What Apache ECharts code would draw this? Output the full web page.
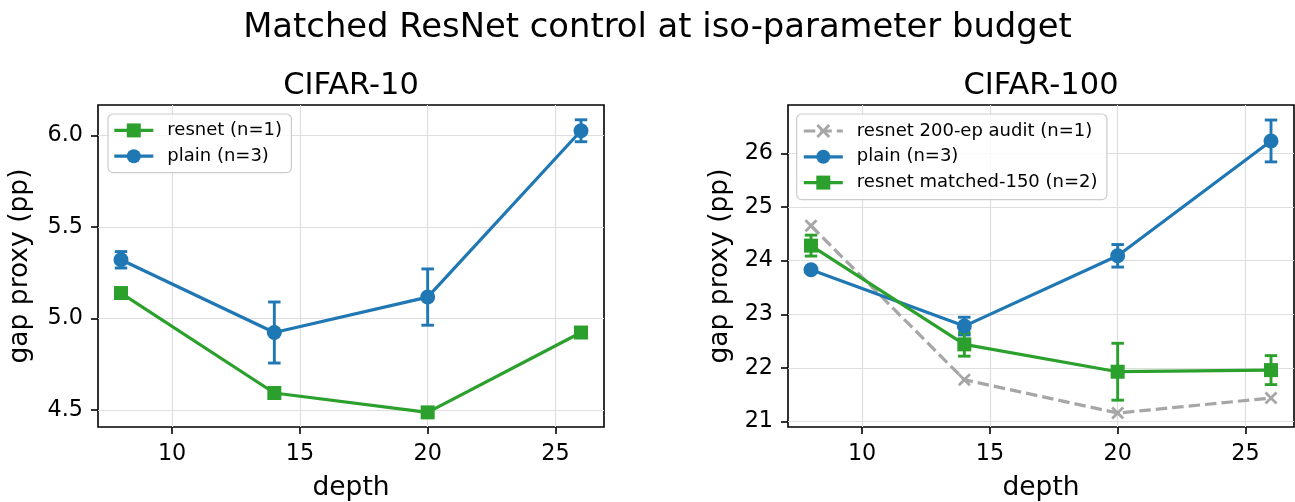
<!DOCTYPE html>
<html><head><meta charset="utf-8">
<script src="https://cdn.jsdelivr.net/npm/echarts@6/dist/echarts.min.js"></script>
<style>html,body{margin:0;padding:0;background:#fff}#c{width:1295px;height:502px}</style>
</head><body><div id="c"></div>
<script>
// ---- data ----
const depths = [8, 14, 20, 26];
const xTicks = [10, 15, 20, 25];
// CIFAR-10
const c10Resnet = [5.139, 4.592, 4.486, 4.923];
const c10Plain = [5.321, 4.923, 5.117, 6.027];
const c10PlainErr = [0.045, 0.167, 0.154, 0.06];
const c10YTicks = [4.5, 5.0, 5.5, 6.0];
// CIFAR-100
const c100Audit = [24.65, 21.78, 21.16, 21.44];
const c100Plain = [23.83, 22.78, 24.09, 26.23];
const c100PlainErr = [0.03, 0.165, 0.21, 0.39];
const c100Matched = [24.28, 22.44, 21.93, 21.96];
const c100MatchedErr = [0.195, 0.22, 0.53, 0.27];
const c100YTicks = [21, 22, 23, 24, 25, 26];

const FONT = 'DejaVu Sans';
const BLUE = '#1f77b4', GREEN = '#2ca02c', GRAY = '#a6a6a6';
const X_PATH = 'path://M0,1.5L1.5,0L5,3.5L8.5,0L10,1.5L6.5,5L10,8.5L8.5,10L5,6.5L1.5,10L0,8.5L3.5,5Z';

function xAxisCfg(gi) {
  return {
    type: 'value', gridIndex: gi, min: 7.1, max: 26.9,
    name: 'depth', nameLocation: 'middle', nameGap: 47.5,
    nameTextStyle: {fontFamily: FONT, fontSize: 26.5, color: '#000'},
    axisLine: {show: false},
    axisTick: {show: true, length: 7, lineStyle: {color: '#000', width: 1.6}, customValues: xTicks},
    axisLabel: {fontFamily: FONT, fontSize: 22.3, color: '#000', margin: 16, customValues: xTicks},
    splitLine: {show: true, lineStyle: {color: '#dedede', width: 1.2}}
  };
}
function yAxisCfg(gi, min, max, ticks, gap, fmt) {
  return {
    type: 'value', gridIndex: gi, min: min, max: max,
    name: 'gap proxy (pp)', nameLocation: 'middle', nameGap: gap,
    nameTextStyle: {fontFamily: FONT, fontSize: 26.5, color: '#000'},
    axisLine: {show: false},
    axisTick: {show: true, length: 7, lineStyle: {color: '#000', width: 1.6}, customValues: ticks},
    axisLabel: {fontFamily: FONT, fontSize: 22.3, color: '#000', margin: 15, customValues: ticks, formatter: fmt},
    splitLine: {show: true, lineStyle: {color: '#dedede', width: 1.2}}
  };
}
function lineSeries(name, gi, vals, color, symbol, size, dashed) {
  return {
    type: 'line', name: name, xAxisIndex: gi, yAxisIndex: gi,
    data: depths.map((d, i) => [d, vals[i]]),
    symbol: symbol, symbolSize: size, showSymbol: true,
    lineStyle: {color: color, width: 3.2, type: dashed ? [11.5, 5] : 'solid'},
    itemStyle: {color: color, opacity: 1},
    emphasis: {disabled: true}, z: 2
  };
}
function errSeries(name, gi, vals, errs, color) {
  return {
    type: 'custom', name: name, xAxisIndex: gi, yAxisIndex: gi, silent: true, z: 2,
    data: depths.map((d, i) => [d, vals[i], errs[i]]),
    encode: {x: 0, y: 1},
    renderItem: function (params, api) {
      const x = api.value(0), y = api.value(1), e = api.value(2);
      const hi = api.coord([x, y + e]), lo = api.coord([x, y - e]);
      const c = 6.25;
      const st = {stroke: color, lineWidth: 2.9};
      return {type: 'group', children: [
        {type: 'line', shape: {x1: hi[0], y1: hi[1], x2: lo[0], y2: lo[1]}, style: st},
        {type: 'line', shape: {x1: hi[0] - c, y1: hi[1], x2: hi[0] + c, y2: hi[1]}, style: st},
        {type: 'line', shape: {x1: lo[0] - c, y1: lo[1], x2: lo[0] + c, y2: lo[1]}, style: st}
      ]};
    }
  };
}
const legendCommon = {
  orient: 'vertical', itemWidth: 39, itemHeight: 17.5, itemGap: 7.8,
  backgroundColor: 'rgba(255,255,255,0.8)', borderColor: '#cccccc', borderWidth: 1.2, borderRadius: 5,
  textStyle: {fontFamily: FONT, fontSize: 18, color: '#000', padding: [0, 0, 0, 9]},
  lineStyle: {width: 3.2},
  selectedMode: false
};

const chart = echarts.init(document.getElementById('c'), null, {renderer: 'canvas'});
chart.setOption({
  animation: false,
  backgroundColor: '#fff',
  title: [
    {text: 'Matched ResNet control at iso-parameter budget', left: 657.5, top: 11, textAlign: 'center', padding: 0,
     textStyle: {fontFamily: FONT, fontSize: 33.8, fontWeight: 'normal', color: '#000', lineHeight: 33.8}},
    {text: 'CIFAR-10', left: 351, top: 71, textAlign: 'center', padding: 0,
     textStyle: {fontFamily: FONT, fontSize: 30.5, fontWeight: 'normal', color: '#000', lineHeight: 30.5}},
    {text: 'CIFAR-100', left: 1041, top: 71, textAlign: 'center', padding: 0,
     textStyle: {fontFamily: FONT, fontSize: 30.5, fontWeight: 'normal', color: '#000', lineHeight: 30.5}}
  ],
  grid: [
    {left: 98, top: 105, width: 506, height: 322, show: true, borderColor: '#000', borderWidth: 1.6,
     backgroundColor: 'transparent', outerBoundsMode: 'none', containLabel: false},
    {left: 788, top: 105, width: 506, height: 322, show: true, borderColor: '#000', borderWidth: 1.6,
     backgroundColor: 'transparent', outerBoundsMode: 'none', containLabel: false}
  ],
  legend: [
    Object.assign({}, legendCommon, {left: 108, top: 114, padding: [7.4, 9.4, 7.4, 4.7],
      data: ['resnet (n=1)', 'plain (n=3)']}),
    Object.assign({}, legendCommon, {left: 796.7, top: 114, padding: [8, 9.4, 8, 5.5],
      data: ['resnet 200-ep audit (n=1)', 'plain (n=3) ', 'resnet matched-150 (n=2)']})
  ],
  xAxis: [xAxisCfg(0), xAxisCfg(1)],
  yAxis: [
    yAxisCfg(0, 4.406, 6.168, c10YTicks, 64, v => v.toFixed(1)),
    yAxisCfg(1, 20.9, 26.9, c100YTicks, 54, v => String(v))
  ],
  series: [
    lineSeries('resnet (n=1)', 0, c10Resnet, GREEN, 'rect', 14, false),
    errSeries('c10 plain err', 0, c10Plain, c10PlainErr, BLUE),
    lineSeries('plain (n=3)', 0, c10Plain, BLUE, 'circle', 15, false),
    lineSeries('resnet 200-ep audit (n=1)', 1, c100Audit, GRAY, X_PATH, 13, true),
    errSeries('c100 plain err', 1, c100Plain, c100PlainErr, BLUE),
    lineSeries('plain (n=3) ', 1, c100Plain, BLUE, 'circle', 15, false),
    errSeries('c100 matched err', 1, c100Matched, c100MatchedErr, GREEN),
    lineSeries('resnet matched-150 (n=2)', 1, c100Matched, GREEN, 'rect', 14, false)
  ]
});
</script></body></html>
